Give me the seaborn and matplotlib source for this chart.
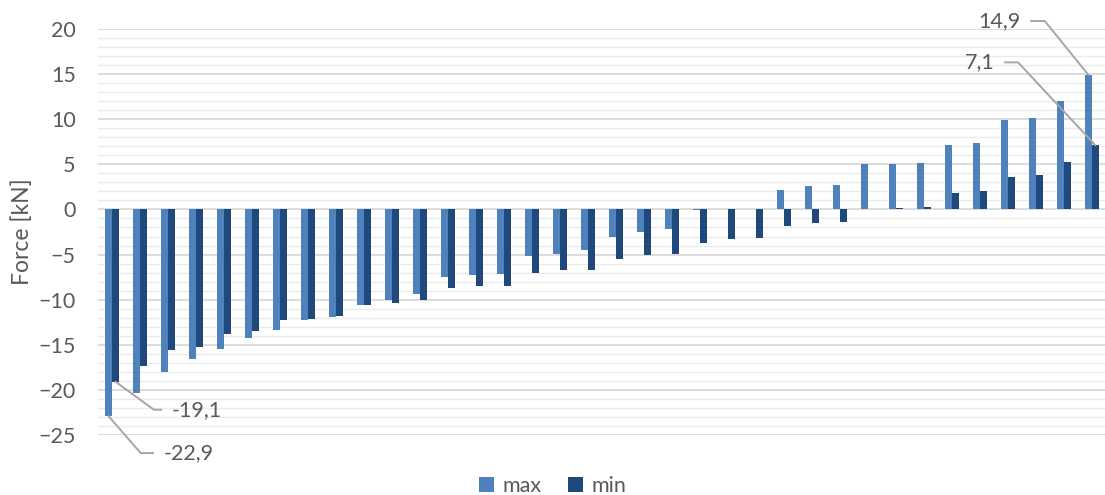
import matplotlib
matplotlib.use("Agg")
import matplotlib.pyplot as plt
from matplotlib.ticker import MultipleLocator
import seaborn as sns
import pandas as pd

# ---- data ----
cases = [f"C{i + 1}" for i in range(36)]
max_vals = [-22.9, -20.3, -18.0, -16.6, -15.5, -14.3, -13.4, -12.3, -11.9, -10.6, -10.0, -9.4,
            -7.5, -7.3, -7.1, -5.2, -4.9, -4.5, -3.1, -2.5, -2.2, -0.1, 0.0, 0.05,
            2.1, 2.6, 2.7, 5.0, 5.0, 5.1, 7.1, 7.4, 9.9, 10.1, 12.0, 14.9]
min_vals = [-19.1, -17.3, -15.6, -15.2, -13.8, -13.5, -12.3, -12.1, -11.8, -10.6, -10.4, -10.0,
            -8.7, -8.5, -8.5, -7.0, -6.7, -6.7, -5.5, -5.1, -4.9, -3.7, -3.3, -3.2,
            -1.8, -1.5, -1.4, 0.0, 0.2, 0.3, 1.8, 2.0, 3.6, 3.8, 5.3, 7.1]
series_names = ["max", "min"]
y_ticks = [-25, -20, -15, -10, -5, 0, 5, 10, 15, 20]
y_label = "Force [kN]"

df = pd.DataFrame({
    "case": cases * 2,
    "series": ["max"] * len(cases) + ["min"] * len(cases),
    "value": max_vals + min_vals,
})

TXT = "#595959"
FS = 15.5
colors = {"max": "#4F81BD", "min": "#1F497D"}

sns.set_theme(style="white")
plt.rcParams["font.family"] = ["Lato", "DejaVu Sans"]

fig = plt.figure(figsize=(11.05, 4.95), dpi=100)
ax = fig.add_axes([98 / 1105, 1 - 435 / 495, (1106 - 98) / 1105, (435 - 29) / 495])

sns.barplot(data=df, x="case", y="value", hue="series", hue_order=series_names,
            order=cases, palette=colors, width=0.5, gap=0.08, saturation=1,
            ax=ax, edgecolor="none")

ax.set_ylim(y_ticks[0], y_ticks[-1])
ax.set_xlim(-0.5, len(cases) - 0.5)
ax.set_yticks(y_ticks)
ax.yaxis.set_minor_locator(MultipleLocator(1))
ax.set_axisbelow(True)
ax.grid(axis="y", which="major", color="#d9d9d9", lw=1.3)
ax.grid(axis="y", which="minor", color="#ebebeb", lw=1.0)
ax.grid(axis="x", visible=False)
for s in ax.spines.values():
    s.set_visible(False)
ax.tick_params(axis="both", which="both", length=0)
ax.tick_params(axis="y", labelsize=FS, labelcolor=TXT, pad=16)
ax.set_xticklabels([])
ax.set_xlabel("")
ax.set_ylabel(y_label, fontsize=16.5, color=TXT)
ax.yaxis.set_label_coords(-0.064, 0.5)

# legend at the bottom centre of the figure
handles, labels = ax.get_legend_handles_labels()
ax.get_legend().remove()
fig.legend(handles, labels, loc="center", bbox_to_anchor=(0.5, 1 - 486 / 495), ncol=2,
           frameon=False, fontsize=FS, labelcolor=TXT, handlelength=0.7, handleheight=0.7,
           handletextpad=0.4, columnspacing=1.2, borderaxespad=0)


def leader(bar, text, dx, dy, ha, angle_b):
    x = bar.get_x() + bar.get_width() / 2
    y = bar.get_y() + bar.get_height()
    ax.annotate(text, xy=(x, y), xytext=(dx, dy), textcoords="offset pixels",
                ha=ha, va="center", fontsize=FS, color=TXT,
                arrowprops=dict(arrowstyle="-", color="#a6a6a6", lw=1.4,
                                shrinkA=5, shrinkB=0,
                                relpos=(0 if ha == "left" else 1, 0.5),
                                connectionstyle=f"angle,angleA=0,angleB={angle_b},rad=0"))


max_bars, min_bars = ax.containers[0], ax.containers[1]
fmt = lambda v: f"{v:.1f}".replace(".", ",")
leader(max_bars[0], fmt(max_vals[0]), 55, -37, "left", -49)
leader(min_bars[0], fmt(min_vals[0]), 56, -28, "left", -36)
leader(max_bars[-1], fmt(max_vals[-1]), -68, 54, "right", -51)
leader(min_bars[-1], fmt(min_vals[-1]), -101, 83, "right", -47)

fig.savefig("out.png", dpi=100)
